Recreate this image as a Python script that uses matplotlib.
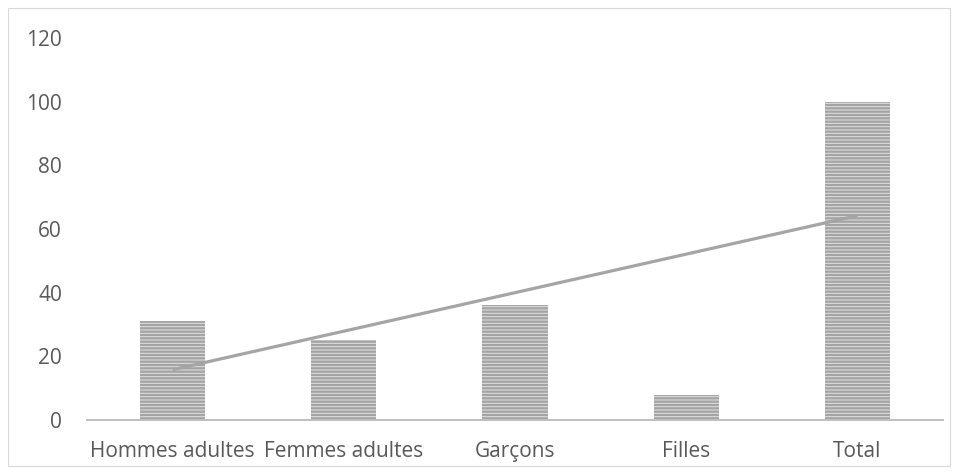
import matplotlib
matplotlib.use("Agg")
import matplotlib.pyplot as plt
from matplotlib.patches import Rectangle
import numpy as np

categories = ["Hommes adultes", "Femmes adultes", "Garçons", "Filles", "Total"]
values = [31, 25, 36, 8, 100]
y_ticks = [0, 20, 40, 60, 80, 100, 120]

plt.rcParams["font.family"] = ["Open Sans", "DejaVu Sans"]
plt.rcParams["hatch.linewidth"] = 1.7
plt.rcParams["hatch.color"] = "#a4a4a4"

text_color = "#595959"

fig = plt.figure(figsize=(9.58, 4.74), dpi=100)
# thin frame around the whole chart
fig.patches.append(Rectangle((8 / 958, 8 / 474), 942 / 958, 458 / 474,
                             transform=fig.transFigure, fill=False,
                             edgecolor="#d9d9d9", linewidth=0.8))

ax = fig.add_axes([87 / 958, 54 / 474, 856 / 958, 382 / 474])

x = np.arange(len(categories))
ax.bar(x, values, width=0.38, color="#e2e2e2", edgecolor="#a4a4a4",
       hatch="-----", linewidth=0)

# linear trend over the bars
slope, intercept = np.polyfit(x, values, 1)
ax.plot(x[[0, -1]], slope * x[[0, -1]] + intercept, color="#a5a5a5",
        linewidth=2.3, solid_capstyle="butt")

ax.set_xlim(-0.5, len(categories) - 0.5)
ax.set_ylim(0, 120)
ax.set_yticks(y_ticks)
ax.set_xticks(x)
ax.set_xticklabels(categories)
ax.tick_params(axis="both", length=0, labelsize=15, colors=text_color)
ax.tick_params(axis="y", pad=18)
ax.tick_params(axis="x", pad=15)

for side in ["top", "right", "left"]:
    ax.spines[side].set_visible(False)
ax.spines["bottom"].set_color("#bfbfbf")
ax.spines["bottom"].set_linewidth(1.4)

fig.savefig("out.png", dpi=100)
